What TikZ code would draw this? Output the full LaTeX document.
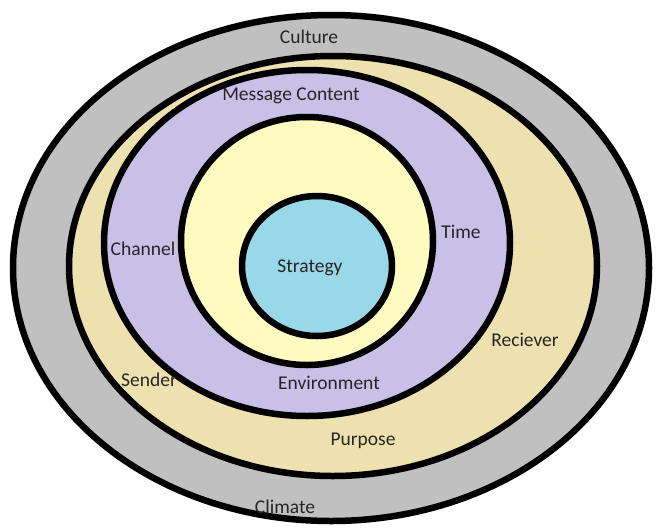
\documentclass[tikz,border=0pt]{standalone}
\usepackage{fontspec}
\setmainfont{Carlito}

\definecolor{climategray}{RGB}{192,192,192}
\definecolor{purposetan}{RGB}{238,225,176}
\definecolor{contentlilac}{RGB}{200,192,230}
\definecolor{envyellow}{RGB}{255,250,192}
\definecolor{strategyblue}{RGB}{153,216,232}

\begin{document}
\begin{tikzpicture}[x=1pt,y=-1pt]

        \useasboundingbox (0,0) rectangle (656,528);

        \begin{scope}[every path/.style={draw=black,line width=6.5pt}]
          \path[fill=climategray]  (331,268) ellipse [x radius=318, y radius=253];
          \path[fill=purposetan]   (333,266) ellipse [x radius=264, y radius=210];
          \path[fill=contentlilac] (307,243) ellipse [x radius=203, y radius=173];
          \path[fill=envyellow]    (307,241) ellipse [x radius=126, y radius=124];
          \path[fill=strategyblue] (317,266) ellipse [x radius=75, y radius=70];
        \end{scope}

        \begin{scope}[every node/.style={font=\fontsize{19.5}{21}\selectfont,text=black!85,inner sep=0pt}]
          \node (culture)     at (309,37)  {Culture};
          \node (content)     at (291,96)  {Message Content};
          \node (channel)     at (143,249) {Channel};
          \node (time)        at (461,232) {Time};
          \node (strategy)    at (310,268) {Strategy};
          \node (reciever)    at (525,340) {Reciever};
          \node (sender)      at (149,380) {Sender};
          \node (environment) at (329,383) {Environment};
          \node (purpose)     at (363,441) {Purpose};
          \node (climate)     at (285,507) {Climate};
        \end{scope}

      \end{tikzpicture}
\end{document}
